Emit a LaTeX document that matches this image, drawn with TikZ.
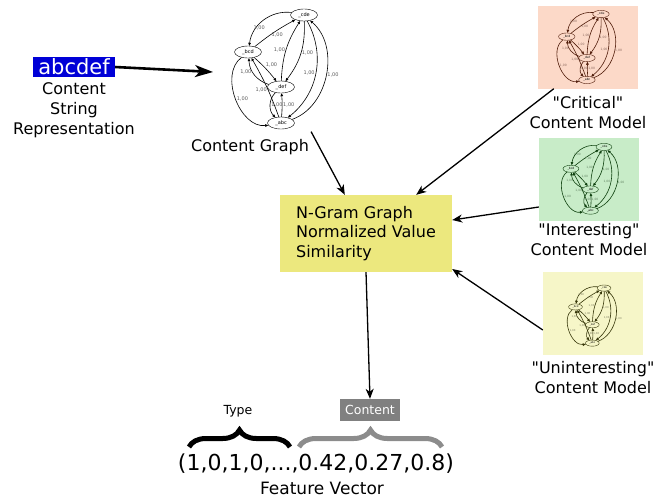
\documentclass[tikz,border=0pt]{standalone}
\usepackage{fontspec}
\setmainfont{DejaVu Sans}
\usetikzlibrary{arrows.meta, positioning, shapes.geometric, decorations.pathreplacing}

\definecolor{stringblue}{RGB}{0,0,215}
\definecolor{simyellow}{RGB}{236,232,126}
\definecolor{critbg}{RGB}{252,217,200}
\definecolor{critline}{RGB}{80,28,10}
\definecolor{intbg}{RGB}{200,236,200}
\definecolor{intline}{RGB}{15,65,15}
\definecolor{unbg}{RGB}{246,246,200}
\definecolor{unline}{RGB}{55,55,10}
\definecolor{contentgray}{RGB}{128,128,128}
\definecolor{bracegray}{RGB}{140,140,140}

\newcommand{\descfont}{\fontsize{16}{20}\selectfont}

\tikzset{
  gnode/.style={ellipse, draw, minimum width=27pt, minimum height=12pt, inner sep=0pt, font=\fontsize{5}{5}\selectfont},
  gedge/.style={-{Triangle[length=3pt,width=2.6pt]}, line width=0.6pt},
  elabel/.style={font=\fontsize{5}{5}\selectfont, inner sep=0.8pt},
  flow/.style={-{Stealth[length=10pt,width=8pt,inset=3pt]}, line width=1.3pt},
  bigflow/.style={-{Stealth[length=18pt,width=12pt,inset=5pt]}, line width=2.6pt},
  desc/.style={align=center, font=\descfont, inner sep=0pt},
  modelbox/.style={minimum width=100pt, minimum height=83pt, inner sep=0pt},
  mybrace/.style={decorate, decoration={brace, amplitude=17pt}, line width=5pt},
}

% n-gram graph: #1 name prefix, #2 line colour, #3 node fill
\newcommand{\ngramgraph}[3]{%
\node[gnode, draw=#2, fill=#3] (#1cde) at (304,15) {\_cde};
\node[gnode, draw=#2, fill=#3] (#1bcd) at (248,52) {\_bcd};
\node[gnode, draw=#2, fill=#3] (#1def) at (281,87) {\_def};
\node[gnode, draw=#2, fill=#3] (#1abc) at (281,123) {\_abc};
\begin{scope}[gedge, draw=#2, every node/.style={elabel, text=#2!65}]
\draw (#1cde) to[bend right=45] node[pos=.6, below] {1,00} (#1bcd);
\draw (#1bcd) to[bend left=5] node[pos=.4, right] {1,00} (#1cde);
\draw (#1bcd) to[bend left=5] node[pos=.45, above right] {1,00} (#1def);
\draw (#1def) to[bend left=35] node[pos=.6, left] {1,00} (#1bcd);
\draw (#1cde) to[bend left=20] node[pos=.5, right] {1,00} (#1def);
\draw (#1def) to[bend left=15] node[pos=.5, left] {1,00} (#1cde);
\draw (#1cde) to[bend left=40] node[pos=.5, left] {1,00} (#1abc);
\draw (#1abc) to[bend right=60] node[pos=.5, right] {1,00} (#1cde);
\draw (#1bcd) to[bend right=75] node[pos=.5, right] {1,00} (#1abc);
\draw (#1abc) to[bend right=5] node[pos=.45, left] {1,00} (#1bcd);
\draw (#1def) to[bend right=45] node[pos=.5, right] {1,00} (#1abc);
\draw (#1abc) to[bend right=5] node[pos=.5, right] {1,00} (#1def);
\end{scope}
}

\begin{document}
\begin{tikzpicture}[x=1pt, y=-1pt]
\useasboundingbox (0,0) rectangle (668,499);

% input string
\node[fill=stringblue, text=white, font=\fontsize{21}{21}\selectfont, minimum width=82pt, minimum height=20pt, inner sep=0pt] (str) at (74,67) {abcdef};
\node[desc, anchor=base] (strlbl) at (74,134) {Content\\String\\Representation};

% content graph
\ngramgraph{cg}{black}{white}
\coordinate (cgin) at (213,72);
\node[desc, anchor=base] (cglbl) at (250,151) {Content Graph};

% content models
\node[modelbox, fill=critbg] (critbox) at (588,47) {};
\begin{scope}[shift={(415.5,4.9)}, scale=0.61, transform shape]
\ngramgraph{cr}{critline}{critbg}
\end{scope}
\node[desc, anchor=base] (critlbl) at (588,128) {\textquotedbl Critical\textquotedbl\\Content Model};

\node[modelbox, fill=intbg] (intbox) at (589,179.5) {};
\begin{scope}[shift={(424.6,138.1)}, scale=0.59, transform shape]
\ngramgraph{in}{intline}{intbg}
\end{scope}
\node[desc, anchor=base] (intlbl) at (589,255) {\textquotedbl Interesting\textquotedbl\\Content Model};

\node[modelbox, fill=unbg] (unbox) at (593,313.5) {};
\begin{scope}[shift={(449,280.4)}, scale=0.51, transform shape]
\ngramgraph{un}{unline}{unbg}
\end{scope}
\node[desc, anchor=base] (unlbl) at (593,393) {\textquotedbl Uninteresting\textquotedbl\\Content Model};

% similarity
\node[fill=simyellow, minimum width=172pt, minimum height=77pt, align=left, inner sep=0pt, font=\fontsize{16}{19.5}\selectfont] (sim) at (366,233.5) {N-Gram Graph\\Normalized Value\\Similarity};

% feature vector
\node[font=\fontsize{22}{22}\selectfont, anchor=base, inner sep=0pt] (vec) at (316,470) {(1,0,1,0,...,0.42,0.27,0.8)};
\node[font=\fontsize{17}{17}\selectfont, anchor=base, inner sep=0pt] (veclbl) at (322,494) {Feature Vector};
\node[font=\fontsize{12.5}{12.5}\selectfont, anchor=base, inner sep=0pt] (typelbl) at (238,414) {Type};
\node[fill=contentgray, text=white, font=\fontsize{12.5}{12.5}\selectfont, minimum width=60pt, minimum height=22pt, inner sep=0pt] (ctype) at (370,410) {Content};
\coordinate (typeL) at (189,447);
\coordinate (typeR) at (290,447);
\coordinate (contL) at (299,447);
\coordinate (contR) at (442,447);
\draw[mybrace] (typeL) -- (typeR);
\draw[mybrace, bracegray] (contL) -- (contR);

% arrows
\draw[bigflow] (str.east) -- (cgin);
\draw[flow] ([xshift=2pt,yshift=7pt]cglbl.north east) -- ([xshift=65pt]sim.north west);
\draw[flow] ([xshift=16pt]critbox.south west) -- ([xshift=-36pt]sim.north east);
\draw[flow] ([yshift=-27.5pt]intbox.west) -- ([yshift=13.5pt]sim.east);
\draw[flow] ([yshift=-16.5pt]unbox.west) -- ([yshift=-35.5pt]sim.east);
\draw[flow] (sim.south) -- (ctype.north);
\end{tikzpicture}
\end{document}
